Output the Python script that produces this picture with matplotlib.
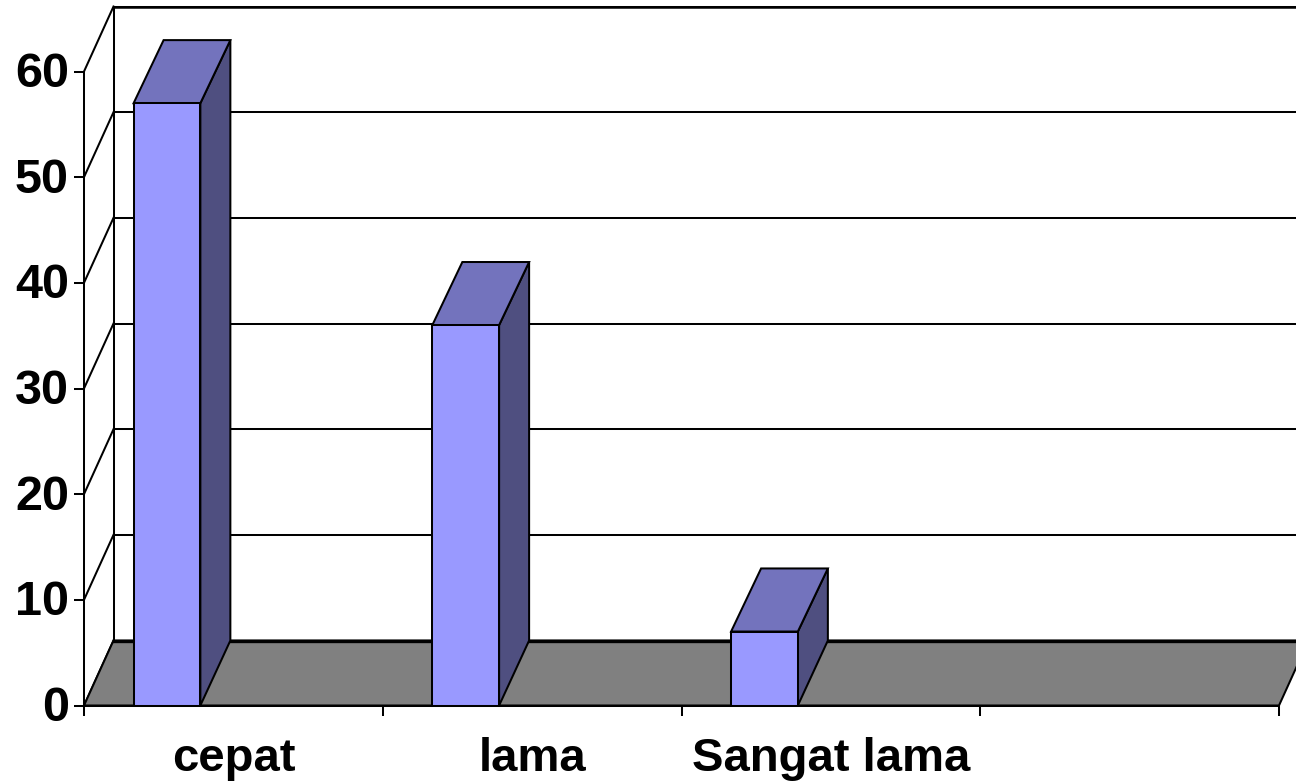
"""3D-style column chart drawn with plain 2D polygons on a value/category axis."""

import matplotlib

matplotlib.use("Agg")
import matplotlib.pyplot as plt
from matplotlib.patches import Polygon
from matplotlib.transforms import ScaledTranslation

categories = ["cepat", "lama", "Sangat lama"]
values = [57, 36, 7]
y_ticks = [0, 10, 20, 30, 40, 50, 60]
n_slots = 4

W, H = 1296, 784
# front plane of the chart, in figure pixels
LEFT, RIGHT, BOTTOM, TOP = 84, 1279, 705.5, 71.5

# oblique depth and column placement, in data units
DEPTH_X = 29.5 / ((RIGHT - LEFT) / n_slots)
DEPTH_Y = 6.15
BAR_DEPTH_X = 30 / ((RIGHT - LEFT) / n_slots)
BAR_DEPTH_Y = 5.97
BAR_OFFSET = 0.166
BAR_WIDTH = 0.2235

FACE = "#9999FF"
TOP_FACE = "#7373BD"
SIDE_FACE = "#4F4F80"
FLOOR = "#808080"
LW = 1.45

plt.rcParams["font.family"] = ["Liberation Sans", "DejaVu Sans"]

fig = plt.figure(figsize=(W / 100, H / 100), dpi=100)
ax = fig.add_axes([LEFT / W, 1 - BOTTOM / H, (RIGHT - LEFT) / W, (BOTTOM - TOP) / H])
ax.set_xlim(0, n_slots)
ax.set_ylim(0, y_ticks[-1])
ax.patch.set_visible(False)

for name in ("top", "right"):
    ax.spines[name].set_visible(False)
for name in ("left", "bottom"):
    ax.spines[name].set_linewidth(LW)
    ax.spines[name].set_zorder(5)


def wall_line(xs, ys, lw=LW, zorder=1):
    ax.plot(xs, ys, color="black", lw=lw, clip_on=False, zorder=zorder, solid_capstyle="projecting")


# back wall: gridlines plus the diagonals that join them to the value axis
for v in y_ticks:
    wall_line([0, DEPTH_X], [v, v + DEPTH_Y])
    if v > 0:
        wall_line([DEPTH_X, n_slots + DEPTH_X], [v + DEPTH_Y, v + DEPTH_Y])
wall_line([DEPTH_X, DEPTH_X], [DEPTH_Y, y_ticks[-1] + DEPTH_Y])
wall_line([DEPTH_X, n_slots + DEPTH_X], [y_ticks[-1] + DEPTH_Y] * 2, lw=1.8)

# floor
ax.add_patch(Polygon(
    [(0, 0), (DEPTH_X, DEPTH_Y), (n_slots + DEPTH_X, DEPTH_Y), (n_slots, 0)],
    closed=True, facecolor=FLOOR, edgecolor="black", lw=LW, clip_on=False, zorder=2,
))
wall_line([DEPTH_X, n_slots + DEPTH_X], [DEPTH_Y, DEPTH_Y], lw=2.4, zorder=2.5)

# columns: side and top faces first, then the front
for i, val in enumerate(values):
    x0 = i + BAR_OFFSET
    x1 = x0 + BAR_WIDTH
    style = dict(closed=True, edgecolor="black", lw=LW, clip_on=False, zorder=3, joinstyle="miter")
    ax.add_patch(Polygon(
        [(x1, 0), (x1 + BAR_DEPTH_X, DEPTH_Y), (x1 + BAR_DEPTH_X, val + BAR_DEPTH_Y), (x1, val)],
        facecolor=SIDE_FACE, **style,
    ))
    ax.add_patch(Polygon(
        [(x0, val), (x0 + BAR_DEPTH_X, val + BAR_DEPTH_Y), (x1 + BAR_DEPTH_X, val + BAR_DEPTH_Y), (x1, val)],
        facecolor=TOP_FACE, **style,
    ))
    ax.bar(x0, val, width=BAR_WIDTH, align="edge", color=FACE, edgecolor="black",
           linewidth=LW, clip_on=False, zorder=4)

ax.set_yticks(y_ticks)
ax.set_xticks(range(n_slots + 1))
ax.set_xticklabels([])
ax.set_xticks([i + 0.5 for i in range(len(categories))], labels=categories, minor=True)
ax.tick_params(axis="y", length=7.5, width=LW, pad=3.3, labelsize=35)
ax.tick_params(axis="x", which="major", length=7.2, width=LW)
ax.tick_params(axis="x", which="minor", length=0, pad=23, labelsize=34)
# nudge the value labels up a touch so they centre on their ticks
nudge = ScaledTranslation(0, 2 / 100, fig.dpi_scale_trans)
for label in ax.get_yticklabels():
    label.set_fontweight("bold")
    label.set_transform(label.get_transform() + nudge)
for label in ax.get_xticklabels(minor=True):
    label.set_fontweight("bold")

fig.savefig("out.png", dpi=100, facecolor="white")
